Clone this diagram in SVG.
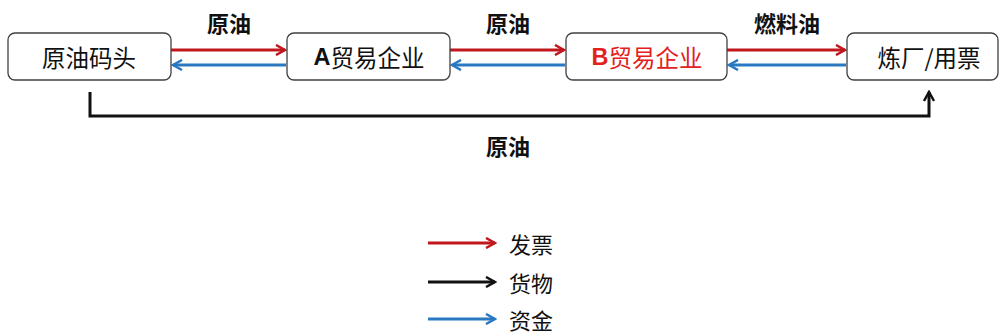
<svg xmlns="http://www.w3.org/2000/svg" width="1000" height="334" viewBox="0 0 1000 334">
<style>
.box{fill:#fff;stroke:#404040;stroke-width:1.3}
.t{font-family:"Noto Sans CJK SC","Noto Sans",sans-serif;font-size:22px;fill:#111;text-anchor:middle;dominant-baseline:central}
.n{font-size:23.5px}
.lb{font-weight:bold}
.lat{font-family:"Liberation Sans",Arial,sans-serif;font-weight:bold}
.red{stroke:#c0161c;stroke-width:3;fill:none}
.blue{stroke:#2a78c2;stroke-width:3;fill:none}
.blk{stroke:#111;stroke-width:3;fill:none}
</style>
<defs>
<marker id="hr" viewBox="0 0 12 12" refX="10" refY="6" markerWidth="12" markerHeight="12" markerUnits="userSpaceOnUse" orient="auto"><path d="M1,1 L10,6 L1,11" fill="none" stroke="#c0161c" stroke-width="2.5"/></marker>
<marker id="hb" viewBox="0 0 12 12" refX="10" refY="6" markerWidth="12" markerHeight="12" markerUnits="userSpaceOnUse" orient="auto"><path d="M1,1 L10,6 L1,11" fill="none" stroke="#2a78c2" stroke-width="2.5"/></marker>
<marker id="hk" viewBox="0 0 12 12" refX="10" refY="6" markerWidth="12" markerHeight="12" markerUnits="userSpaceOnUse" orient="auto"><path d="M1,1 L10,6 L1,11" fill="none" stroke="#111" stroke-width="2.5"/></marker>
</defs>
<g id="connectors">
<line class="red" x1="171" y1="50" x2="285" y2="50" marker-end="url(#hr)"/>
<line class="blue" x1="286" y1="65" x2="173" y2="65" marker-end="url(#hb)"/>
<line class="red" x1="450" y1="50" x2="564" y2="50" marker-end="url(#hr)"/>
<line class="blue" x1="565" y1="65" x2="452" y2="65" marker-end="url(#hb)"/>
<line class="red" x1="727" y1="50" x2="845" y2="50" marker-end="url(#hr)"/>
<line class="blue" x1="846" y1="65" x2="729" y2="65" marker-end="url(#hb)"/>
<polyline class="blk" points="90,92 90,116 929,116 929,92" marker-end="url(#hk)"/>
<text class="t lb" x="229" y="22">原油</text>
<text class="t lb" x="508" y="22">原油</text>
<text class="t lb" x="787" y="22">燃料油</text>
<text class="t lb" x="508" y="145">原油</text>
</g>
<g id="node-wharf">
<rect class="box" x="8" y="33" width="163" height="47" rx="7"/>
<text class="t n" x="89" y="57">原油码头</text>
</g>
<g id="node-a">
<rect class="box" x="287" y="33" width="163" height="47" rx="7"/>
<text class="t n" x="369" y="57"><tspan class="lat">A</tspan>贸易企业</text>
</g>
<g id="node-b">
<rect class="box" x="566" y="33" width="161" height="47" rx="7"/>
<text class="t n" x="647" y="57" style="fill:#e3211c"><tspan class="lat">B</tspan>贸易企业</text>
</g>
<g id="node-refinery">
<rect class="box" x="847" y="33" width="151" height="47" rx="7"/>
<text class="t n" x="929" y="57">炼厂/用票</text>
</g>
<g id="legend">
<line class="red" x1="428" y1="243" x2="495" y2="243" marker-end="url(#hr)"/>
<line class="blk" x1="428" y1="282" x2="495" y2="282" marker-end="url(#hk)"/>
<line class="blue" x1="428" y1="319" x2="495" y2="319" marker-end="url(#hb)"/>
<text class="t" x="531" y="243">发票</text>
<text class="t" x="531" y="282">货物</text>
<text class="t" x="531" y="319">资金</text>
</g>
</svg>
